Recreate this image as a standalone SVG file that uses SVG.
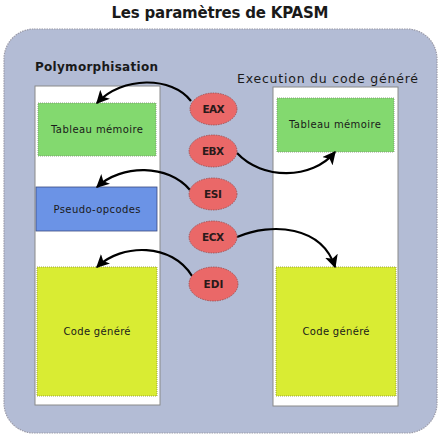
<svg xmlns="http://www.w3.org/2000/svg" width="440" height="441" viewBox="0 0 440 441">
<style>
.t{font-family:"DejaVu Sans",Verdana,sans-serif;fill:#1a1a1a}
.box{font-size:10px;text-anchor:middle}
.reg{font-size:10.5px;font-weight:bold;text-anchor:middle;fill:#2a1a1a}
.col{fill:#fff;stroke:#8a8a8a;stroke-width:1}
.green{fill:#83d96f;stroke:#7a8a70;stroke-width:0.8;stroke-dasharray:1 1}
.yellow{fill:#d9ec33;stroke:#8a9030;stroke-width:0.8;stroke-dasharray:1 1}
.blue{fill:#6b93e6;stroke:#3a4a80;stroke-width:0.8}
.ell{fill:#ea6868;stroke:#9a4848;stroke-width:0.8;stroke-dasharray:1.5 1}
.arr{fill:none;stroke:#000;stroke-width:2.2;marker-end:url(#ah)}
</style>
<defs>
<marker id="ah" viewBox="0 0 10 10" refX="9" refY="5" markerWidth="6" markerHeight="6" orient="auto" markerUnits="strokeWidth">
<path d="M0,0 L10,5 L0,10 L2.5,5 z" fill="#000"/>
</marker>
</defs>
<rect width="440" height="441" fill="#fff"/>
<text class="t" x="220" y="18" font-size="15" font-weight="bold" text-anchor="middle" textLength="217" lengthAdjust="spacing">Les paramètres de KPASM</text>
<rect x="4" y="29" width="433" height="404" rx="30" fill="#b3bcd5" stroke="#9a9aa8" stroke-width="1.2" stroke-dasharray="1.5 1"/>
<text class="t" x="35" y="71" font-size="12" font-weight="bold" textLength="123" lengthAdjust="spacing">Polymorphisation</text>
<text class="t" x="237" y="83" font-size="12.5" textLength="181" lengthAdjust="spacing">Execution du code généré</text>
<g id="col-left"><rect class="col" x="35" y="86" width="125" height="319"/></g>
<g id="col-right"><rect class="col" x="273" y="87" width="125" height="319"/></g>
<g id="left-tableau"><rect class="green" x="38" y="103" width="118" height="53"/><text class="t box" x="97" y="133" textLength="92" lengthAdjust="spacing">Tableau mémoire</text></g>
<g id="left-pseudo"><rect class="blue" x="36" y="187" width="121" height="44"/><text class="t box" x="97" y="213" textLength="87" lengthAdjust="spacing">Pseudo-opcodes</text></g>
<g id="left-code"><rect class="yellow" x="37" y="267" width="120" height="129"/><text class="t box" x="97" y="335" textLength="67" lengthAdjust="spacing">Code généré</text></g>
<g id="right-tableau"><rect class="green" x="277" y="98" width="117" height="54"/><text class="t box" x="335" y="128" textLength="92" lengthAdjust="spacing">Tableau mémoire</text></g>
<g id="right-code"><rect class="yellow" x="276" y="267" width="120" height="129"/><text class="t box" x="336" y="335" textLength="67" lengthAdjust="spacing">Code généré</text></g>
<g id="connectors">
<path class="arr" d="M191,101 C172,76 122,76 97,103"/>
<path class="arr" d="M237,153 C262,180 312,180 335,152"/>
<path class="arr" d="M190,190 C168,164 122,164 97,187"/>
<path class="arr" d="M237,237 C272,222 322,226 335,267"/>
<path class="arr" d="M192,276 C172,243 122,243 97,267"/>
</g>
<g id="eax"><ellipse class="ell" cx="213.5" cy="109" rx="23.5" ry="16"/><text class="t reg" x="213.5" y="113" textLength="22" lengthAdjust="spacing">EAX</text></g>
<g id="ebx"><ellipse class="ell" cx="213" cy="151" rx="24" ry="16"/><text class="t reg" x="213" y="155" textLength="22" lengthAdjust="spacing">EBX</text></g>
<g id="esi"><ellipse class="ell" cx="213" cy="194" rx="24" ry="16"/><text class="t reg" x="213" y="198" textLength="18" lengthAdjust="spacing">ESI</text></g>
<g id="ecx"><ellipse class="ell" cx="213" cy="237" rx="24" ry="16"/><text class="t reg" x="213" y="241" textLength="22" lengthAdjust="spacing">ECX</text></g>
<g id="edi"><ellipse class="ell" cx="213.5" cy="284" rx="24.5" ry="17"/><text class="t reg" x="213.5" y="288" textLength="20" lengthAdjust="spacing">EDI</text></g>
</svg>
